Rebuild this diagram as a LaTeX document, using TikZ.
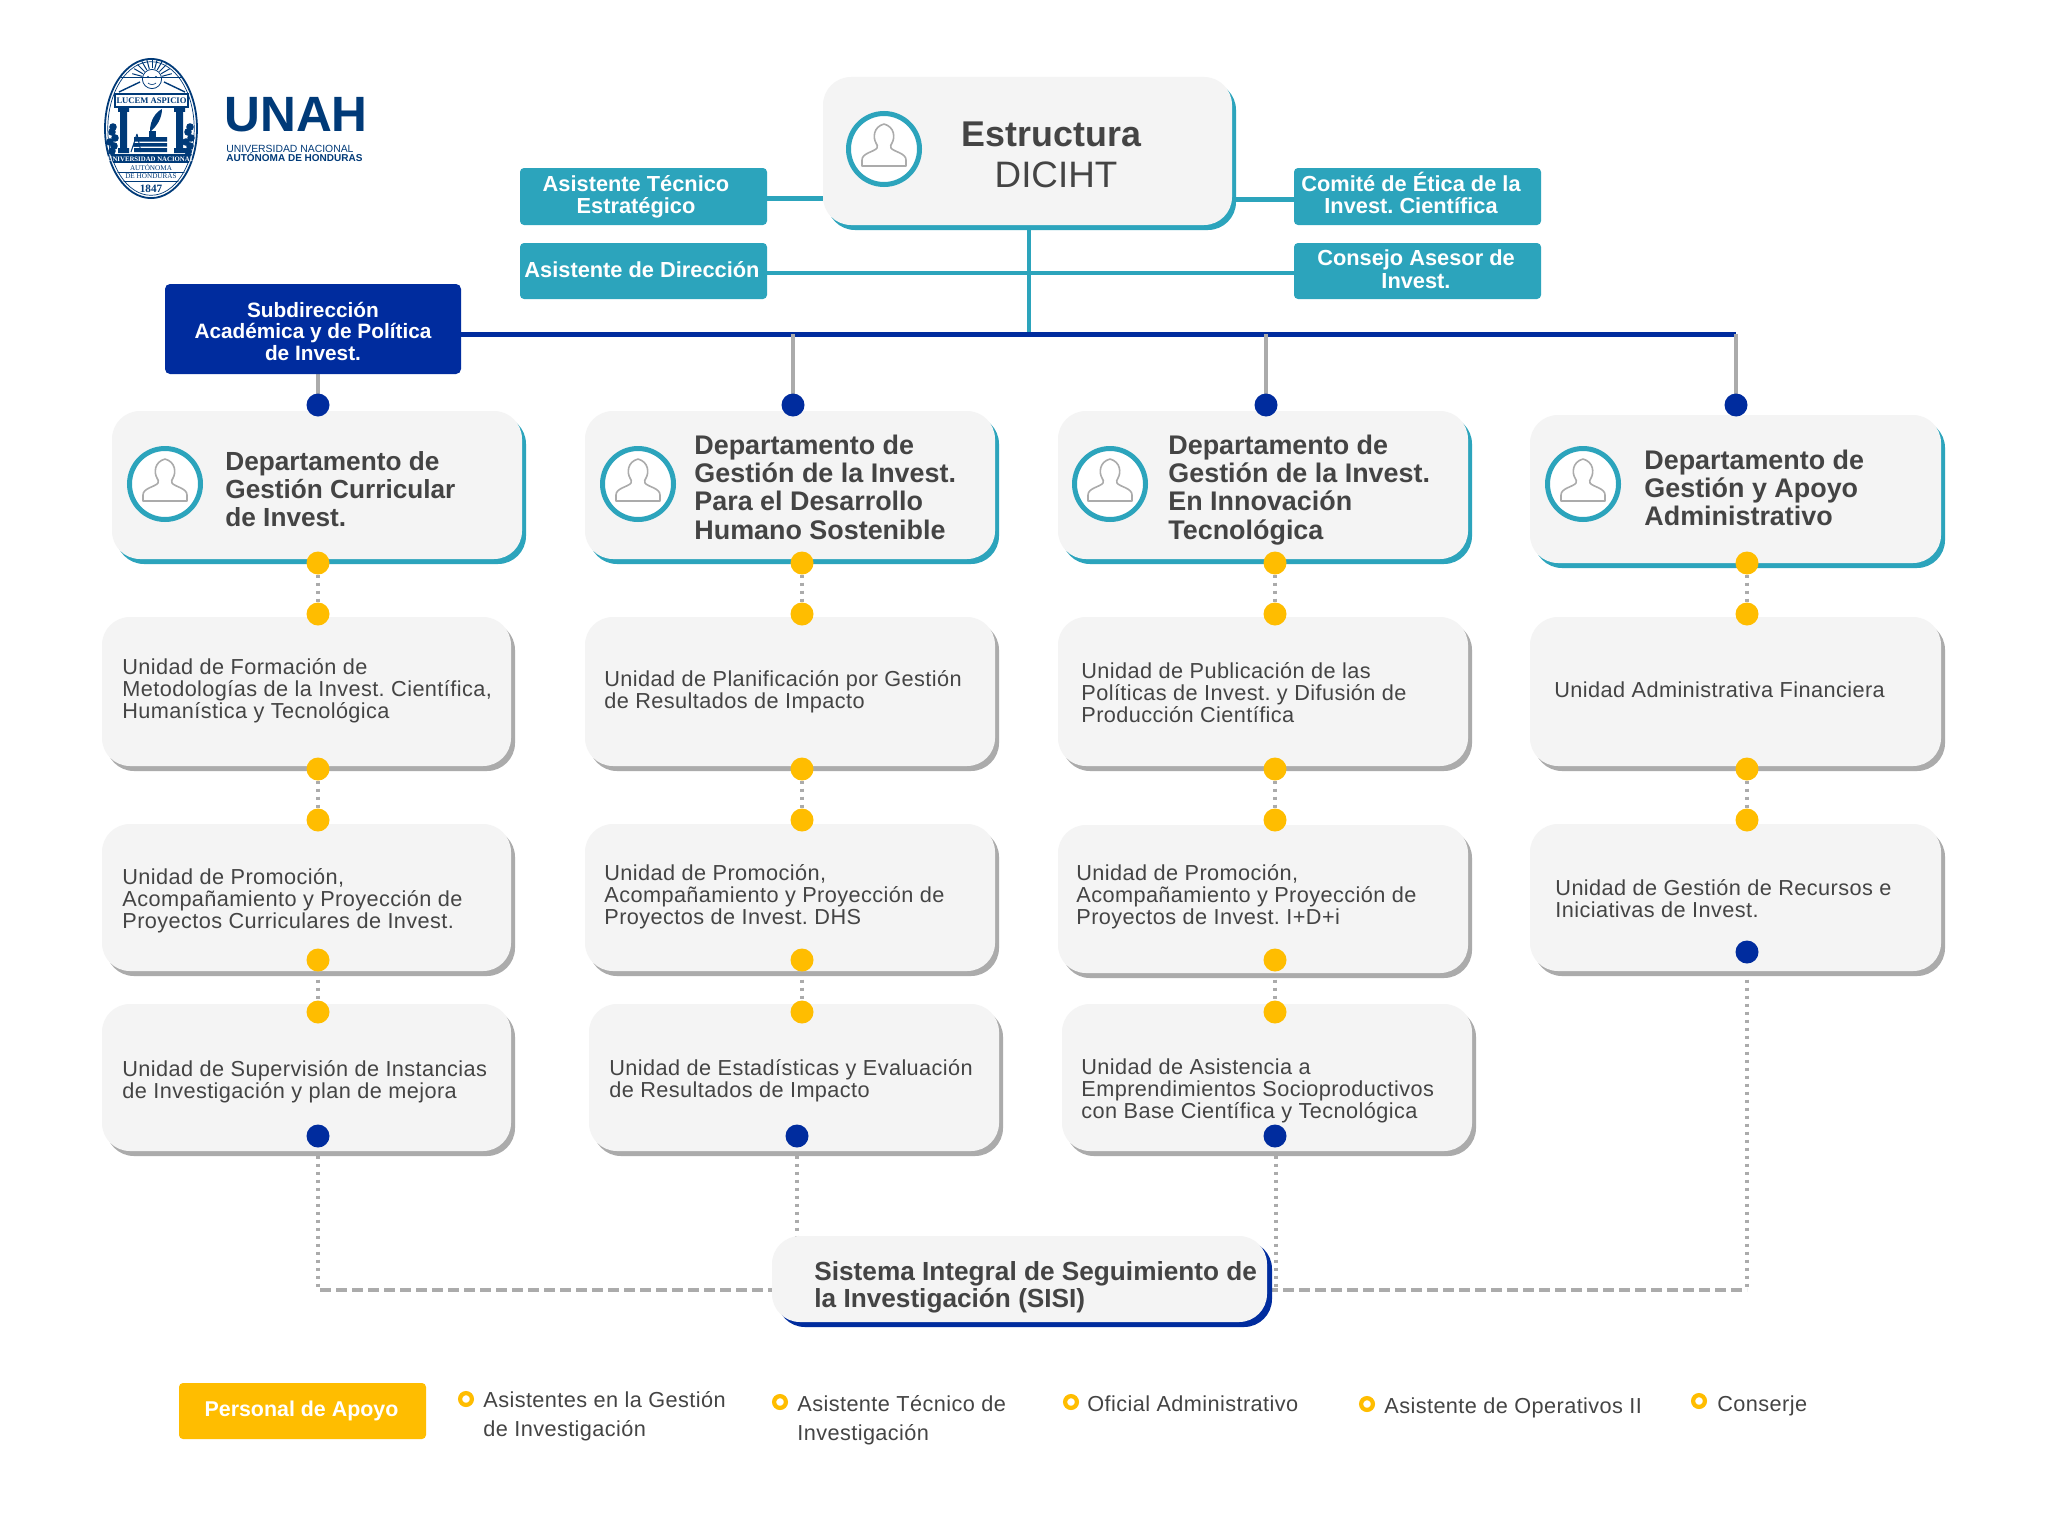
\documentclass[tikz,border=0pt]{standalone}
\usepackage{fontspec}
\setmainfont{Liberation Sans}
\newfontfamily\unitfont[LetterSpace=1.9]{Liberation Sans}
\newfontfamily\sealfont{Liberation Serif}
\frenchspacing
\usetikzlibrary{shadows,backgrounds,calc}
\definecolor{tealc}{HTML}{2CA4BC}
\definecolor{bluec}{HTML}{002C9E}
\definecolor{yelc}{HTML}{FFBD00}
\definecolor{cardc}{HTML}{F4F4F4}
\definecolor{grayc}{HTML}{ABABAB}
\definecolor{txtc}{HTML}{444444}
\definecolor{navyc}{HTML}{003A78}
\tikzset{
  base card/.style={rectangle,fill=cardc,draw=none,rounded corners=14pt,inner sep=0pt,outer sep=0pt},
  card teal/.style={base card,general shadow={fill=tealc,shadow xshift=2pt,shadow yshift=-2.5pt}},
  card gray/.style={base card,general shadow={fill=grayc,shadow xshift=2pt,shadow yshift=-2.5pt}},
  card blue/.style={base card,general shadow={fill=bluec,shadow xshift=2.5pt,shadow yshift=-2.5pt}},
  tbox/.style={rectangle,fill=tealc,draw=none,rounded corners=2pt,inner sep=0pt,outer sep=0pt},
  nbox/.style={rectangle,fill=bluec,draw=none,rounded corners=2.5pt,inner sep=0pt,outer sep=0pt},
  ybox/.style={rectangle,fill=yelc,draw=none,rounded corners=2pt,inner sep=0pt,outer sep=0pt},
  ydot/.style={circle,fill=yelc,draw=none,minimum size=11.5pt,inner sep=0pt,outer sep=0pt},
  bdot/.style={circle,fill=bluec,draw=none,minimum size=11.5pt,inner sep=0pt,outer sep=0pt},
  ring/.style={circle,fill=white,draw=yelc,line width=2.1pt,minimum size=5.9pt,inner sep=0pt,outer sep=0pt},
  avatarc/.style={circle,fill=white,draw=tealc,line width=2.5pt,minimum size=35.5pt,inner sep=0pt},
  person/.pic={\draw[grayc,line width=.8pt,line join=round] (-22,17) -- (22,17) -- (22,11) .. controls (22,4) and (10,3) .. (7,-1) .. controls (6,-3) and (7,-4) .. (8,-6) .. controls (11,-11) and (11,-22) .. (0,-25) .. controls (-11,-22) and (-11,-11) .. (-8,-6) .. controls (-7,-4) and (-6,-3) .. (-7,-1) .. controls (-10,3) and (-22,4) .. (-22,11) -- cycle;},
  deptxt/.style={anchor=base west,inner sep=0pt,text=txtc,font=\fontsize{13.45}{14.2}\selectfont\bfseries},
  unitxt/.style={anchor=base west,inner sep=0pt,text=txtc,font=\fontsize{10.85}{10.5}\unitfont},
  legtxt/.style={anchor=base west,inner sep=0pt,text=txtc,font=\fontsize{10.85}{14.5}\unitfont},
  boxtxt/.style={anchor=base,inner sep=0pt,text=white,font=\fontsize{10.9}{11}\selectfont\bfseries},
  teal line/.style={tealc,line width=2.5pt},
  blue line/.style={bluec,line width=2.5pt},
  gray line/.style={grayc,line width=2pt},
  dot line/.style={grayc,line width=2pt,dash pattern=on 1.8pt off 2.2pt},
  dash line/.style={grayc,line width=2.2pt,dash pattern=on 5.5pt off 2.5pt},
}
\newcommand\crd[6]{\node[#1,minimum width={(#5-#3)*0.5pt},minimum height={(#6-#4)*0.5pt}] (#2) at ({(#3+#5)/2},{(#4+#6)/2}) {};}
\newcommand\ml[2]{\begin{tabular}[t]{@{}#1@{}}#2\end{tabular}}
\newcommand\avat[3]{\node[avatarc] (#1) at (#2,#3) {}; \pic at (#2,#3) {person};}
\begin{document}
\begin{tikzpicture}[x=0.5pt,y=-0.5pt]
\useasboundingbox (0,0) rectangle (2048,1536);
% ---------- logo
\begin{scope}[navyc]
\draw[line width=.9pt,fill=white] (151,128.5) ellipse [x radius=23pt,y radius=34.8pt];
\draw[line width=.35pt] (151,128.5) ellipse [x radius=21.6pt,y radius=33.4pt];
\foreach \a in {-165,-150,...,-15} {\draw[line width=.5pt] (152,79) ++(\a:10.5) -- ++(\a:10);}
\draw[line width=.4pt] (152,79) circle [radius=4.8pt];
\fill (148,77) circle [radius=.6pt] (156,77) circle [radius=.6pt];
\draw[line width=.3pt] (148,83) .. controls (150,85) and (154,85) .. (156,83);
\draw[line width=.5pt] (121,78) -- (183,78);
\draw[line width=.7pt] (119,92) -- (140,82) (185,92) -- (164,82);
\draw[line width=.7pt,fill=white] (115,94) rectangle (188,107);
\node[inner sep=0pt] (sealtop) at (151.5,100.5) {\sealfont\bfseries\fontsize{4.3}{5}\selectfont LUCEM ASPICIO};
\fill (118,108) rectangle (129,112) (120,112) rectangle (127,148) (118,148) rectangle (129,153);
\fill (174,108) rectangle (185,112) (176,112) rectangle (183,148) (174,148) rectangle (185,153);
\fill (134,137) rectangle (167,141.5) (134,143) rectangle (167,146.5) (134,148) rectangle (167,152);
\fill (149,131) rectangle (156,137);
\fill (150,131) .. controls (150,120) and (156,112) .. (162,109) .. controls (162,118) and (157,126) .. (151,131) -- cycle;
\draw[line width=.5pt] (137,134) -- (131,152) (137,134) -- (141,152) (133,146) -- (140,146);
\foreach \q/\r in {112/132,115/138,110/142,114/146,112/151,188/132,191/138,186/142,190/146,188/151,113/127,190/127} {\fill (\q,\r) circle [radius=1.9pt];}
\begin{scope}
\clip (151,128.5) ellipse [x radius=22pt,y radius=33.8pt];
\fill (100,154) rectangle (205,163);
\draw[line width=.4pt] (100,172.5) -- (205,172.5) (100,181.5) -- (205,181.5);
\end{scope}
\node[inner sep=0pt,text=white] (sealband) at (151,159) {\sealfont\bfseries\fontsize{3.4}{4}\selectfont UNIVERSIDAD NACIONAL};
\node[inner sep=0pt] (sealb) at (151,167.5) {\sealfont\fontsize{3.6}{4}\selectfont AUTÓNOMA};
\node[inner sep=0pt] (sealc) at (151,176.5) {\sealfont\fontsize{3.6}{4}\selectfont DE HONDURAS};
\node[inner sep=0pt] (seald) at (151,188.5) {\sealfont\bfseries\fontsize{5.6}{6}\selectfont 1847};
\end{scope}
\node[anchor=base west,inner sep=0pt,text=navyc] (unah) at (224,132) {\fontsize{24.8}{25}\selectfont\bfseries UNAH};
\node[anchor=base west,inner sep=0pt,text=navyc] (unah1) at (226,152) {\fontsize{5.2}{6}\selectfont UNIVERSIDAD NACIONAL};
\node[anchor=base west,inner sep=0pt,text=navyc] (unah2) at (226,162) {\fontsize{5}{6}\selectfont\bfseries AUTÓNOMA DE HONDURAS};
% ---------- top block
\crd{card teal}{top}{823}{77}{1232}{225}
\crd{tbox}{ate}{520}{168}{767}{225}
\crd{tbox}{adi}{520}{243}{767}{299}
\crd{tbox}{com}{1294}{168}{1541}{225}
\crd{tbox}{con}{1294}{243}{1541}{299}
\crd{nbox}{sub}{165}{284}{461}{374}
\avat{atop}{884}{149}
\node[anchor=base,inner sep=0pt,text=txtc] (t1) at (1051.5,146) {\fontsize{17.9}{18}\selectfont\bfseries Estructura};
\node[anchor=base,inner sep=0pt,text=txtc] (t2) at (1056,187) {\fontsize{18.4}{18}\selectfont DICIHT};
\node[boxtxt] (tate) at (636,191) {\ml{c}{Asistente Técnico\\Estratégico}};
\node[boxtxt] (tadi) at (642,277) {Asistente de Dirección};
\node[boxtxt] (tcom) at (1411,191) {\ml{c}{Comité de Ética de la\\Invest. Científica}};
\node[boxtxt,font=\fontsize{10.9}{11.5}\selectfont\bfseries] (tcon) at (1416,265) {\ml{c}{Consejo Asesor de\\Invest.}};
\node[boxtxt,font=\fontsize{10.4}{10.6}\selectfont\bfseries] (tsub) at (313,317) {\ml{c}{Subdirección\\Académica y de Política\\de Invest.}};
% ---------- department cards
\crd{card teal}{d1}{112}{411}{522}{559}
\crd{card teal}{d2}{585}{411}{995}{559}
\crd{card teal}{d3}{1058}{411}{1468}{559}
\crd{card teal}{d4}{1530}{415}{1941}{563}
\avat{a1}{165}{484}
\avat{a2}{638}{484}
\avat{a3}{1110}{484}
\avat{a4}{1583}{484}
\node[deptxt,font=\fontsize{13.1}{14}\selectfont\bfseries] (td1) at (225,470) {\ml{l}{Departamento de\\Gestión Curricular\\de Invest.}};
\node[deptxt] (td2) at (694,454) {\ml{l}{Departamento de\\Gestión de la Invest.\\Para el Desarrollo\\Humano Sostenible}};
\node[deptxt] (td3) at (1168,454) {\ml{l}{Departamento de\\Gestión de la Invest.\\En Innovación\\Tecnológica}};
\node[deptxt] (td4) at (1644,469) {\ml{l}{Departamento de\\Gestión y Apoyo\\Administrativo}};
% ---------- unit cards
\crd{card gray}{u11}{102}{617}{511}{766}
\crd{card gray}{u21}{585}{617}{995}{766}
\crd{card gray}{u31}{1058}{617}{1468}{766}
\crd{card gray}{u41}{1530}{617}{1941}{766}
\crd{card gray}{u12}{102}{824}{511}{971}
\crd{card gray}{u22}{585}{824}{995}{971}
\crd{card gray}{u32}{1058}{825}{1468}{973}
\crd{card gray}{u42}{1530}{824}{1941}{971}
\crd{card gray}{u13}{102}{1004}{511}{1151}
\crd{card gray}{u23}{589}{1004}{999}{1151}
\crd{card gray}{u33}{1062}{1004}{1472}{1151}
\node[unitxt] (x11) at (122,674) {\ml{l}{Unidad de Formación de\\Metodologías de la Invest. Científica,\\Humanística y Tecnológica}};
\node[unitxt] (x12) at (122,884) {\ml{l}{Unidad de Promoción,\\Acompañamiento y Proyección de\\Proyectos Curriculares de Invest.}};
\node[unitxt] (x13) at (122,1076) {\ml{l}{Unidad de Supervisión de Instancias\\de Investigación y plan de mejora}};
\node[unitxt] (x21) at (604,686) {\ml{l}{Unidad de Planificación por Gestión\\de Resultados de Impacto}};
\node[unitxt] (x22) at (604,880) {\ml{l}{Unidad de Promoción,\\Acompañamiento y Proyección de\\Proyectos de Invest. DHS}};
\node[unitxt] (x23) at (609,1075) {\ml{l}{Unidad de Estadísticas y Evaluación\\de Resultados de Impacto}};
\node[unitxt] (x31) at (1081,678) {\ml{l}{Unidad de Publicación de las\\Políticas de Invest. y Difusión de\\Producción Científica}};
\node[unitxt] (x32) at (1076,880) {\ml{l}{Unidad de Promoción,\\Acompañamiento y Proyección de\\Proyectos de Invest. I+D+i}};
\node[unitxt] (x33) at (1081,1074) {\ml{l}{Unidad de Asistencia a\\Emprendimientos Socioproductivos\\con Base Científica y Tecnológica}};
\node[unitxt] (x41) at (1554,697) {Unidad Administrativa Financiera};
\node[unitxt] (x42) at (1555,895) {\ml{l}{Unidad de Gestión de Recursos e\\Iniciativas de Invest.}};
% ---------- SISI
\crd{card blue}{sisi}{772}{1236}{1267}{1322}
\node[deptxt,font=\fontsize{13.1}{13.5}\selectfont\bfseries] (tsisi) at (814,1280) {\ml{l}{Sistema Integral de Seguimiento de\\la Investigación (SISI)}};
% ---------- legend
\crd{ybox}{per}{179}{1383}{426}{1439}
\node[anchor=base,inner sep=0pt,text=white] (tper) at (301.5,1416) {\fontsize{10.7}{11}\selectfont\bfseries Personal de Apoyo};
\node[ring] (r1) at (466,1399) {};
\node[ring] (r2) at (780,1402) {};
\node[ring] (r3) at (1071,1402) {};
\node[ring] (r4) at (1367,1404) {};
\node[ring] (r5) at (1699,1401) {};
\node[legtxt] (l1) at (483,1407) {\ml{l}{Asistentes en la Gestión\\de Investigación}};
\node[legtxt] (l2) at (797,1411) {\ml{l}{Asistente Técnico de\\Investigación}};
\node[legtxt] (l3) at (1087,1411) {Oficial Administrativo};
\node[legtxt] (l4) at (1384,1413) {Asistente de Operativos II};
\node[legtxt] (l5) at (1717,1411) {Conserje};
% ---------- dots
\node[bdot] (b1) at (318,405) {};
\node[bdot] (b2) at (793,405) {};
\node[bdot] (b3) at (1266,405) {};
\node[bdot] (b4) at (1736,405) {};
\foreach \n/\cx in {1/318,2/802,3/1275,4/1747} {
  \node[ydot] (p\n) at (\cx,563) {};
  \node[ydot] (q\n) at (\cx,614) {};
  \node[ydot] (r\n a) at (\cx,769) {};
  \node[ydot] (s\n) at (\cx,820) {};
}
\foreach \n/\cx in {1/318,2/802,3/1275} {
  \node[ydot] (v\n) at (\cx,960) {};
  \node[ydot] (w\n) at (\cx,1012) {};
}
\node[bdot] (e1) at (318,1136) {};
\node[bdot] (e2) at (797,1136) {};
\node[bdot] (e3) at (1275,1136) {};
\node[bdot] (e4) at (1747,952) {};
\coordinate (jt) at (1029,334);
\coordinate (jend) at (1736,334);
\coordinate (cl) at (318,1290);
\coordinate (cr) at (1747,1290);
\coordinate (c3) at (1276,1290);
% ---------- connectors
\begin{scope}[on background layer]
\fill[white] (0,0) rectangle (2048,1536);
\draw[teal line] ([yshift=-.8pt]ate.east) -- ([yshift=-.8pt]ate.east -| top.west);
\draw[teal line] ([yshift=-1.3pt]com.west) -- ([yshift=-1.3pt]com.west -| top.east);
\draw[teal line,line width=2.2pt] ([yshift=-1pt]adi.east) -- ([yshift=-1pt]con.west);
\draw[teal line,line width=2.2pt] (jt) -- (jt |- top.south);
\draw[blue line] (sub.east |- jt) -- (jend);
\draw[gray line] (b1.center |- sub.south) -- (b1);
\draw[gray line] (b2.center |- jt) -- (b2);
\draw[gray line] (b3.center |- jt) -- (b3);
\draw[gray line] (b4.center |- jt) -- (b4);
\foreach \n in {1,2,3,4} {
  \draw[dot line] (p\n) -- (q\n);
  \draw[dot line] (r\n a) -- (s\n);
}
\foreach \n in {1,2,3} {\draw[dot line] (v\n) -- (w\n);}
\draw[dot line] (e1) -- (cl);
\draw[dash line] (cl) ++(2,0) -- (sisi.west |- cl);
\draw[dot line] (e2) -- (e2 |- sisi.north);
\draw[dot line] ([xshift=.5pt]e3.south) -- (c3);
\draw[dash line] (sisi.east |- cr) -- (cr);
\draw[dot line] (e4) -- (cr);
\end{scope}
\end{tikzpicture}
\end{document}
